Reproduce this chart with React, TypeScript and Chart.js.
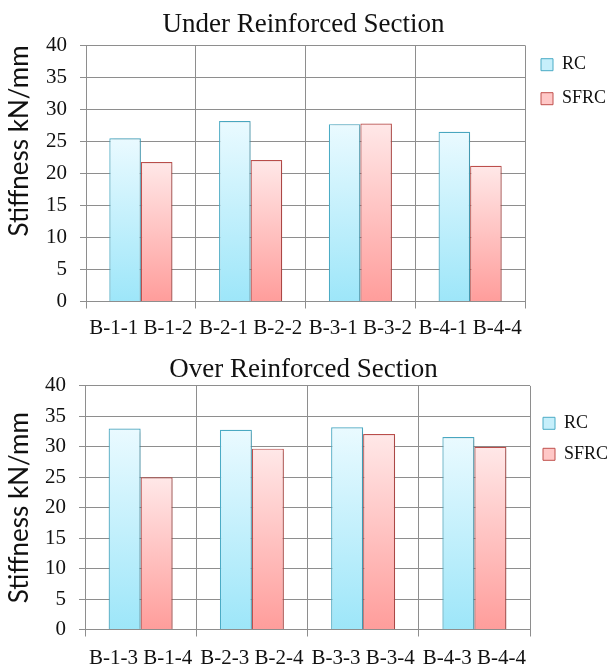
import React, { useEffect, useRef } from 'react';
import { Chart, registerables } from 'chart.js';

Chart.register(...registerables);

// ---- data ----
const underRcLabels = ['B-1-1', 'B-2-1', 'B-3-1', 'B-4-1'];
const underSfrcLabels = ['B-1-2', 'B-2-2', 'B-3-2', 'B-4-4'];
const underRc = [25.5, 28.2, 27.7, 26.5];
const underSfrc = [21.8, 22.1, 27.8, 21.2];

const overRcLabels = ['B-1-3', 'B-2-3', 'B-3-3', 'B-4-3'];
const overSfrcLabels = ['B-1-4', 'B-2-4', 'B-3-4', 'B-4-4'];
const overRc = [33.0, 32.8, 33.2, 31.6];
const overSfrc = [25.0, 29.7, 32.1, 30.0];

const seriesNames = ['RC', 'SFRC'];
const yTicks = { min: 0, max: 40, step: 5 };

// ---- styles ----
const SERIF = "'Liberation Serif', 'Times New Roman', serif";
const SANS = "Lato, 'Liberation Sans', sans-serif";
const GRID = '#8e8e8e';
const INK = '#111';
const RC_STYLE = { top: '#eafaff', bottom: '#9de6f9', border: '#4bacc6', legend: '#c6effb' };
const SFRC_STYLE = { top: '#ffe8e8', bottom: '#ff9d9b', border: '#c0504d', legend: '#ffc8c7' };

// vertical gradient running from the top of each bar down to the baseline
function barFill(top: string, bottom: string) {
  return (ctx: any) => {
    const chart = ctx.chart;
    const y = chart.scales && chart.scales.y;
    if (!y || ctx.type !== 'data') return bottom;
    const v = ctx.raw as number;
    const y0 = y.getPixelForValue(v);
    const y1 = y.getPixelForValue(0);
    if (!isFinite(y0) || !isFinite(y1) || y0 === y1) return bottom;
    const g = chart.ctx.createLinearGradient(0, y0, 0, y1);
    g.addColorStop(0, top);
    g.addColorStop(1, bottom);
    return g;
  };
}

const barShadow = {
  id: 'barShadow',
  beforeDatasetsDraw(chart: any) {
    const c = chart.ctx;
    c.save();
    c.shadowColor = 'rgba(0,0,0,0.22)';
    c.shadowBlur = 3;
    c.shadowOffsetX = 1.5;
    c.shadowOffsetY = 1;
  },
  afterDatasetsDraw(chart: any) {
    chart.ctx.restore();
  },
};

interface PanelSpec {
  title: string;
  rcLabels: string[];
  sfrcLabels: string[];
  rc: number[];
  sfrc: number[];
  width: number;
  height: number;
  yAxisWidth: number;
  xAxisHeight: number;
  xLabelPad: number;
  plotRight: number;
  titlePad: { top: number; bottom: number };
  yTitleAlign: 'start' | 'center' | 'end';
  legendPad: number;
  legendTop: number;
}

function buildConfig(p: PanelSpec): any {
  const groupLabels = p.rcLabels.map((l, i) => `${l} ${p.sfrcLabels[i]}`);
  const styles = [RC_STYLE, SFRC_STYLE];
  return {
    type: 'bar',
    data: {
      labels: groupLabels,
      datasets: [p.rc, p.sfrc].map((vals, i) => ({
        label: seriesNames[i],
        data: vals,
        backgroundColor: barFill(styles[i].top, styles[i].bottom),
        borderColor: styles[i].border,
        borderWidth: 1.2,
        categoryPercentage: 0.575,
        barPercentage: 1,
      })),
    },
    options: {
      responsive: false,
      animation: false,
      layout: { padding: 0 },
      plugins: {
        tooltip: { enabled: false },
        title: {
          display: true,
          text: p.title,
          color: INK,
          font: { family: SERIF, size: 27, weight: 'normal' },
          padding: p.titlePad,
        },
        legend: {
          position: 'right',
          align: 'start',
          fullSize: true,
          maxWidth: p.width - p.plotRight,
          title: {
            display: true,
            text: ' ',
            font: { size: 10 },
            padding: { top: p.legendTop, bottom: 0 },
          },
          labels: {
            boxWidth: 12,
            boxHeight: 12,
            padding: p.legendPad,
            color: INK,
            font: { family: SERIF, size: 18 },
            generateLabels: (chart: any) =>
              chart.data.datasets.map((ds: any, i: number) => ({
                text: ds.label,
                fillStyle: styles[i].legend,
                strokeStyle: styles[i].border,
                fontColor: INK,
                lineWidth: 1,
                hidden: false,
                datasetIndex: i,
              })),
          },
        },
      },
      scales: {
        x: {
          offset: true,
          grid: { offset: true, color: GRID, tickLength: 7, lineWidth: 1 },
          border: { color: GRID },
          ticks: {
            color: INK,
            font: { family: SERIF, size: 21 },
            padding: p.xLabelPad,
            maxRotation: 0,
            autoSkip: false,
          },
          afterFit: (s: any) => {
            s.height = p.xAxisHeight;
          },
        },
        y: {
          min: yTicks.min,
          max: yTicks.max,
          grid: { color: GRID, tickLength: 6, lineWidth: 1 },
          border: { color: GRID },
          ticks: {
            stepSize: yTicks.step,
            color: INK,
            font: { family: SERIF, size: 21 },
            padding: 13,
          },
          title: {
            display: true,
            text: 'Stiffness kN/mm',
            color: INK,
            align: p.yTitleAlign,
            font: { family: SANS, size: 26 },
            padding: { top: 4, bottom: 0 },
          },
          afterFit: (s: any) => {
            s.width = p.yAxisWidth;
          },
        },
      },
    },
    plugins: [barShadow],
  };
}

function Panel({ spec, top }: { spec: PanelSpec; top: number }) {
  const ref = useRef<HTMLCanvasElement | null>(null);
  useEffect(() => {
    if (!ref.current) return;
    const chart = new Chart(ref.current, buildConfig(spec));
    return () => chart.destroy();
  }, [spec]);
  return (
    <canvas
      ref={ref}
      width={spec.width}
      height={spec.height}
      style={{ position: 'absolute', left: 0, top, width: spec.width, height: spec.height, display: 'block' }}
    />
  );
}

const underSpec: PanelSpec = {
  title: 'Under Reinforced Section',
  rcLabels: underRcLabels,
  sfrcLabels: underSfrcLabels,
  rc: underRc,
  sfrc: underSfrc,
  width: 607,
  height: 340,
  yAxisWidth: 86,
  xAxisHeight: 38.5,
  xLabelPad: 7,
  plotRight: 525,
  titlePad: { top: 9, bottom: 4 },
  yTitleAlign: 'end',
  legendPad: 16,
  legendTop: 27.7,
};

const overSpec: PanelSpec = {
  title: 'Over Reinforced Section',
  rcLabels: overRcLabels,
  sfrcLabels: overSfrcLabels,
  rc: overRc,
  sfrc: overSfrc,
  width: 607,
  height: 327,
  yAxisWidth: 85,
  xAxisHeight: 37.5,
  xLabelPad: 9,
  plotRight: 530,
  titlePad: { top: 13.5, bottom: 0 },
  yTitleAlign: 'center',
  legendPad: 13,
  legendTop: 49.3,
};

export default function App() {
  return (
    <div style={{ position: 'absolute', left: 0, top: 0, width: 607, height: 667, background: '#fff' }}>
      <Panel spec={underSpec} top={0} />
      <Panel spec={overSpec} top={340} />
    </div>
  );
}
